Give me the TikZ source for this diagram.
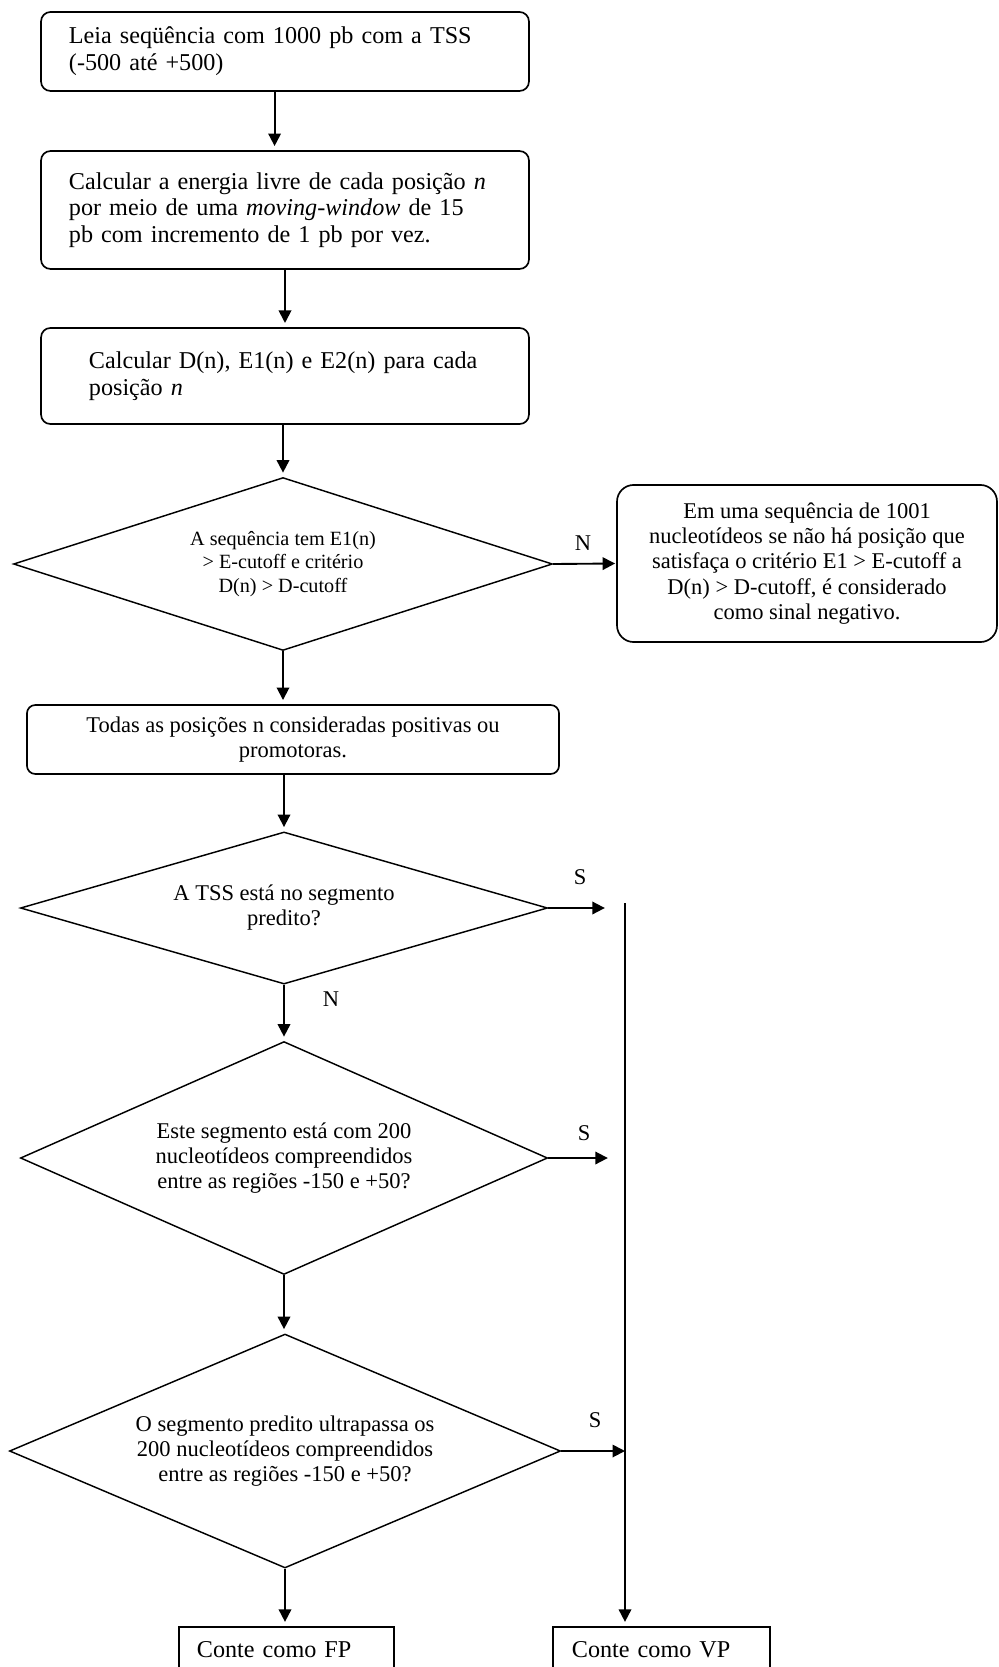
\documentclass[tikz,border=0pt]{standalone}
\usepackage{fontspec}
\setmainfont{Liberation Serif}
\usetikzlibrary{shapes.geometric}
\usetikzlibrary{arrows.meta}

\begin{document}
\begin{tikzpicture}[x=0.48pt, y=-0.48pt,
                    stepbox/.style={rectangle, align=left,
                    draw=black, line width=0.8pt, rounded corners=4.5pt,
                    font=\fontsize{11.6}{12.8}\selectfont, minimum width=234.2pt, inner ysep=0pt},
                    notebox/.style={rectangle, align=center,
                    draw=black, line width=0.8pt,
                    font=\fontsize{10.8}{12.2}\selectfont, inner sep=0pt},
                    testdiam/.style={diamond, align=center,
                    draw=black, line width=0.7pt,
                    font=\fontsize{10.8}{12}\selectfont, inner sep=0pt},
                    countbox/.style={rectangle, align=left,
                    draw=black, line width=1pt,
                    font=\fontsize{11.6}{12.8}\selectfont, text width=86pt, minimum height=22pt, inner ysep=0pt},
                    flowarr/.style={>={Triangle[length=6pt,width=6pt]}, ->, line width=0.9pt, draw=black, shorten >=2pt},
                    lbl/.style={font=\fontsize{10.8}{12}\selectfont, inner sep=0pt}]

                    \useasboundingbox (0,0) rectangle (999,1667);

                    \node[stepbox, text width=207.4pt, inner xsep=13.4pt, minimum height=37.9pt] (read) at (285,51.5)
                        {Leia seqüência com 1000 pb com a TSS\\(-500 até +500)};
                    \node[stepbox, text width=207.4pt, inner xsep=13.4pt, minimum height=56.6pt] (energy) at (285,210)
                        {Calcular a energia livre de cada posição \textit{n}\\por meio de uma \textit{moving}-\textit{window} de 15\\pb com incremento de 1 pb por vez.};
                    \node[stepbox, text width=188.2pt, inner xsep=23pt, minimum height=46.1pt] (calc) at (285,376)
                        {Calcular D(n), E1(n) e E2(n) para cada\\posição \textit{n}};

                    \node[testdiam, font=\fontsize{9.7}{11.3}\selectfont, aspect=3.1, minimum width=258.7pt, minimum height=83pt] (dec1) at (283,564)
                        {A sequência tem E1(n)\\> E-cutoff e critério\\D(n) > D-cutoff};
                    \node[notebox, rounded corners=8pt, minimum width=182.4pt, minimum height=75.4pt] (neg) at (807,563.5)
                        {Em uma sequência de 1001\\nucleotídeos se não há posição que\\satisfaça o critério E1 > E-cutoff a\\D(n) > D-cutoff, é considerado\\como sinal negativo.};
                    \node[notebox, rounded corners=4pt, minimum width=255.4pt, minimum height=33.1pt] (pos) at (293,739.5)
                        {Todas as posições n consideradas positivas ou\\promotoras.};

                    \node[testdiam, aspect=3.45, minimum width=253pt, minimum height=73pt] (dec2) at (284,908)
                        {A TSS está no segmento\\predito?};
                    \node[testdiam, aspect=2.26, minimum width=253pt, minimum height=111.8pt] (dec3) at (284,1158)
                        {Este segmento está com 200\\nucleotídeos compreendidos\\entre as regiões -150 e +50?};
                    \node[testdiam, aspect=2.35, minimum width=264.5pt, minimum height=112.3pt] (dec4) at (285,1451)
                        {O segmento predito ultrapassa os\\200 nucleotídeos compreendidos\\entre as regiões -150 e +50?};

                    \node[countbox, inner xsep=8.6pt] (fp) at (286.5,1650) {Conte como FP};
                    \node[countbox, inner xsep=9.1pt] (vp) at (661.5,1650) {Conte como VP};

                    \coordinate (bus) at (625,903);
                    \coordinate (simend1) at (609,908);
                    \coordinate (simend2) at (612,1158);

                    \node[lbl] (nno) at (583,543) {N};
                    \node[lbl] (sim1) at (580,877) {S};
                    \node[lbl] (nao) at (331,999) {N};
                    \node[lbl] (sim2) at (584,1133) {S};
                    \node[lbl] (sim3) at (595,1420) {S};

                    \draw[flowarr] ([xshift=-5pt]read.south) -- ([xshift=-5pt]energy.north);
                    \draw[flowarr] (energy.south) -- (energy.south |- calc.north);
                    \draw[flowarr] (calc.south -| dec1.north) -- (dec1.north);
                    \draw[flowarr, shorten >=0.5pt] (dec1.east) -- (neg.west);
                    \draw[flowarr] (dec1.south) -- (dec1.south |- pos.north);
                    \draw[flowarr] (pos.south -| dec2.north) -- (dec2.north);
                    \draw[flowarr] (dec2.east) -- (simend1);
                    \draw[flowarr] (dec2.south) -- (dec3.north);
                    \draw[flowarr] (dec3.east) -- (simend2);
                    \draw[flowarr] (dec3.south) -- (dec3.south |- dec4.north);
                    \draw[flowarr, shorten >=0pt] (dec4.east) -- (dec4.east -| bus);
                    \draw[flowarr] (dec4.south) -- (dec4.south |- fp.north);
                    \draw[flowarr] (bus) -- (bus |- vp.north);
                    \end{tikzpicture}
\end{document}
